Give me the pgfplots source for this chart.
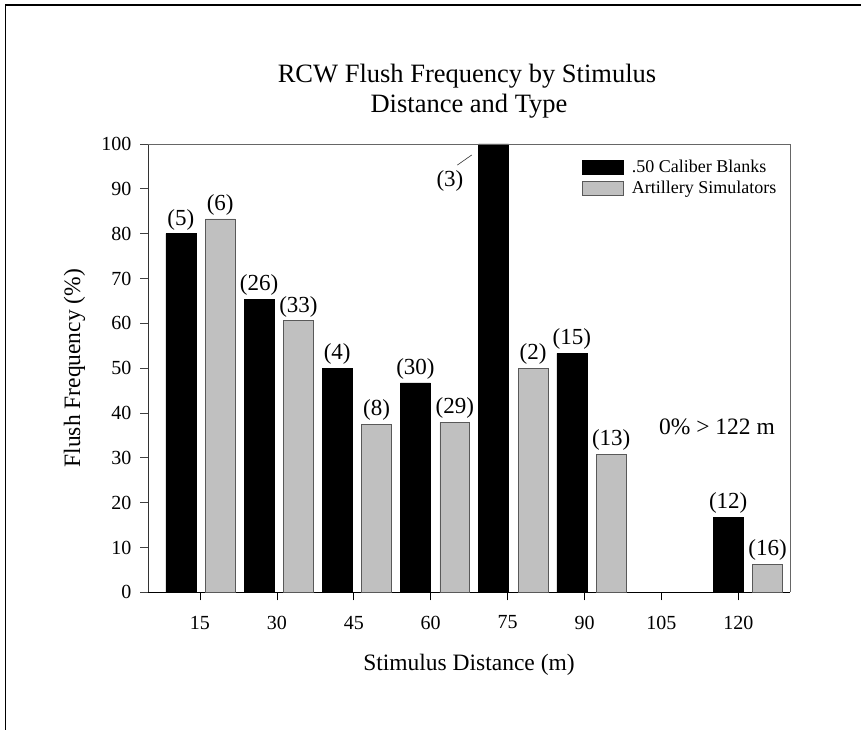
\documentclass[border=0pt]{standalone}
\usepackage{fontspec}
\setmainfont{Liberation Serif}
\usepackage{pgfplots}
\pgfplotsset{compat=1.18}
\definecolor{barGray}{RGB}{192,192,192}
\pgfplotsset{myleg/.style={legend image code/.code={\draw[##1] (0pt,-7pt) rectangle (41pt,7pt);}}}
\begin{document}
\begin{tikzpicture}
\useasboundingbox (0,0) rectangle (861pt,729pt);
\draw[line width=1.3pt] (5.7pt,-10pt) -- (5.7pt,724pt) -- (880pt,724pt);
\node[anchor=base,font=\fontsize{26.5}{30}\selectfont] at (467pt,646pt) {RCW Flush Frequency by Stimulus};
\node[anchor=base,font=\fontsize{26.5}{30}\selectfont] at (469pt,616pt) {Distance and Type};
\begin{axis}[
  at={(148pt,136.7pt)}, anchor=south west,
  width=642pt, height=448.3pt, scale only axis,
  xmin=4.92, xmax=128.08, ymin=0, ymax=100,
  axis x line*=bottom, axis y line*=left,
  x axis line style={black, line width=0.9pt, -},
  y axis line style={black!80, line width=0.8pt, -},
  tick align=outside,
  major tick length=8pt,
  xtick style={black, line width=0.8pt},
  ytick style={black!75, line width=0.8pt},
  xtick={14.89,29.65,44.40,59.15,73.91,88.66,103.41,118.17},
  xticklabels={15,30,45,60,75,90,105,120},
  ytick={0,10,...,100},
  /pgf/number format/assume math mode=true,
  xticklabel style={font=\fontsize{20}{24}\selectfont, yshift=-12pt},
  yticklabel style={font=\fontsize{20}{24}\selectfont, xshift=-5pt},
  xlabel={Stimulus Distance (m)},
  ylabel={Flush Frequency (\%)},
  xlabel style={at={(axis description cs:0.5,0)}, anchor=base, yshift=-78pt, font=\fontsize{23.5}{28}\selectfont},
  ylabel style={at={(axis description cs:-0.1145,0.5)}, anchor=center, font=\fontsize{23.5}{28}\selectfont},
  legend style={at={(axis description cs:0.676,0.9668)}, anchor=north west, draw=none, fill=none,
    inner sep=0pt, row sep=5pt, column sep=7pt, font=\fontsize{18}{21}\selectfont,
    nodes={inner sep=1pt}},
  legend cell align=left,
  clip=false,
]
\addplot[ybar, bar width=5.74, bar shift=-3.78, fill=black, draw=black, line width=0.5pt,
  nodes near coords, point meta=explicit symbolic,
  nodes near coords style={font=\fontsize{23}{27}\selectfont, text=black, xshift=-19.7pt}, myleg]
  coordinates {(15,80)[(5)] (30,65.4)[(26)] (45,50)[(4)] (60,46.7)[(30)] (75,100)[{}] (90,53.3)[(15)] (120,16.7)[(12)]};
\addlegendentry{.50 Caliber Blanks}
\addplot[ybar, bar width=5.74, bar shift=3.78, fill=barGray, draw=black!65, line width=0.7pt,
  nodes near coords, point meta=explicit symbolic,
  nodes near coords style={font=\fontsize{23}{27}\selectfont, text=black, xshift=19.7pt}, myleg]
  coordinates {(15,83.3)[(6)] (30,60.6)[(33)] (45,37.5)[(8)] (60,37.9)[(29)] (75,50)[(2)] (90,30.8)[(13)] (120,6.25)[(16)]};
\addlegendentry{Artillery Simulators}
\draw[black!60, line width=0.8pt] (rel axis cs:0,1) -- (rel axis cs:1,1) -- (rel axis cs:1,0);
\node[font=\fontsize{23}{27}\selectfont] at (axis cs:62.85,91.75) {(3)};
\draw[black!80, line width=0.6pt] (axis cs:64.26,95.3) -- (axis cs:67.02,97.55);
\node[anchor=base, font=\fontsize{23.5}{28}\selectfont] at (axis cs:114.08,35.1) {0\% > 122 m};
\end{axis}
\end{tikzpicture}
\end{document}
